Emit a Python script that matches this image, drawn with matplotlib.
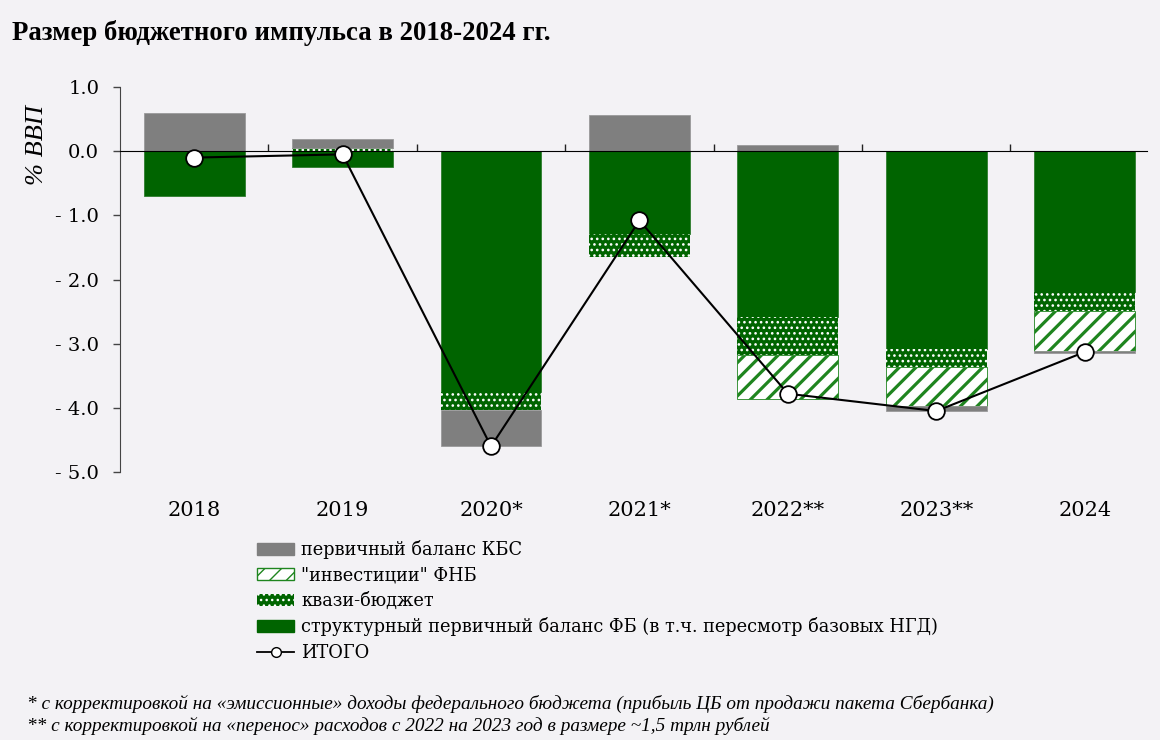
import numpy as np
import matplotlib
matplotlib.use("Agg")
import matplotlib.pyplot as plt
from matplotlib.patches import Patch
from matplotlib.lines import Line2D

# данные, % ВВП
years = ["2018", "2019", "2020*", "2021*", "2022**", "2023**", "2024"]
struct_fb = [-0.70, -0.24, -3.75, -1.29, -2.58, -3.08, -2.19]
quasi = [0.0, 0.05, -0.29, -0.36, -0.59, -0.29, -0.30]
fnb = [0.0, 0.0, 0.0, 0.0, -0.70, -0.60, -0.62]
kbs = [0.60, 0.14, -0.55, 0.57, 0.10, -0.08, -0.03]
itogo = [-0.10, -0.05, -4.60, -1.08, -3.78, -4.05, -3.13]

yticks = [1, 0, -1, -2, -3, -4, -5]
ytick_labels = ["1.0", "0.0", "- 1.0", "- 2.0", "- 3.0", "- 4.0", "- 5.0"]

lbl_kbs = "первичный баланс КБС"
lbl_fnb = '"инвестиции" ФНБ'
lbl_quasi = "квази-бюджет"
lbl_struct = "структурный первичный баланс ФБ (в т.ч. пересмотр базовых НГД)"
lbl_itogo = "ИТОГО"

title = "Размер бюджетного импульса в 2018-2024 гг."
note1 = "* с корректировкой на «эмиссионные» доходы федерального бюджета (прибыль ЦБ от продажи пакета Сбербанка)"
note2 = "** с корректировкой на «перенос» расходов с 2022 на 2023 год в размере ~1,5 трлн рублей"

BG = "#f3f2f5"
GREEN = "#006400"
GREEN_H = "#1f851f"
GREY = "#7f7f7f"


def hatch_lw(artist, lw):
    # толщина штриховки отдельно для каждого элемента (если версия умеет)
    if hasattr(artist, "set_hatch_linewidth"):
        artist.set_hatch_linewidth(lw)


fig = plt.figure(figsize=(11.6, 7.4), dpi=100, facecolor=BG)
ax = fig.add_axes([120/1160, 1-472/740, (1147-120)/1160, (472-87)/740])
ax.set_facecolor(BG)

x = np.arange(len(years))
w = 0.68

styles = [
    (struct_fb, dict(facecolor=GREEN, edgecolor="#2e7d2e", linewidth=0.6), None),
    (quasi, dict(facecolor=GREEN, edgecolor="white", hatch="...", linewidth=0), 1.1),
    (fnb, dict(facecolor="white", edgecolor=GREEN_H, hatch="//", linewidth=0.6), 2.3),
    (kbs, dict(facecolor=GREY, edgecolor="#9a9a9a", linewidth=0.6), None),
]
pos = np.zeros(len(years))
neg = np.zeros(len(years))
for vals, st, hlw in styles:
    v = np.array(vals)
    bottom = np.where(v >= 0, pos, neg)
    with plt.rc_context({"hatch.linewidth": hlw or 1.0}):
        bars = ax.bar(x, v, w, bottom=bottom, zorder=2, **st)
    if hlw:
        for b in bars:
            hatch_lw(b, hlw)
    pos = pos + np.where(v > 0, v, 0)
    neg = neg + np.where(v < 0, v, 0)

ax.plot(x, itogo, color="black", lw=1.5, marker="o", ms=12,
        mfc="white", mec="black", mew=1.3, zorder=4)

ax.set_xlim(-0.5, 6.42)
ax.set_ylim(-5, 1)

for s in ["top", "right", "bottom"]:
    ax.spines[s].set_visible(False)
ax.spines["left"].set_color("#444444")

ax.set_yticks(yticks)
ax.set_yticklabels(ytick_labels, family="DejaVu Serif", fontsize=14)
ax.tick_params(axis="y", length=5, width=1, color="#444444", pad=10)

ax.set_xticks(x)
ax.set_xticklabels(years, family="DejaVu Serif", fontsize=15)
ax.tick_params(axis="x", length=0, pad=21)

# нулевая линия с делениями между годами
zero = ax.secondary_xaxis(5/6)
zero.set_xticks(x[:-1] + 0.5)
zero.set_xticklabels([])
zero.tick_params(axis="x", direction="out", length=5, width=1, color="#222222")
zero.spines["bottom"].set_color("#222222")
zero.set_zorder(3)

fig.text(37/1160, 1-145/740, "% ВВП", rotation=90, ha="center", va="center",
         family="Liberation Serif", style="italic", fontsize=19)

fig.text(12/1160, 1-33/740, title, ha="left", va="center",
         family="Liberation Serif", weight="bold", fontsize=19.3)

with plt.rc_context({"hatch.linewidth": 2.2}):
    h_fnb = Patch(facecolor="white", edgecolor=GREEN_H, hatch="//", label=lbl_fnb)
with plt.rc_context({"hatch.linewidth": 1.1}):
    h_quasi = Patch(facecolor=GREEN, edgecolor="white", hatch="...", linewidth=0, label=lbl_quasi)
hatch_lw(h_fnb, 2.2)
hatch_lw(h_quasi, 1.1)

handles = [
    Patch(facecolor=GREY, edgecolor=GREY, label=lbl_kbs),
    h_fnb,
    h_quasi,
    Patch(facecolor=GREEN, edgecolor=GREEN, label=lbl_struct),
    Line2D([], [], color="black", lw=1.3, marker="o", ms=7, mfc="white", mec="black", label=lbl_itogo),
]
leg = fig.legend(handles=handles, loc="upper left", bbox_to_anchor=(257/1160, 1-540/740),
                 frameon=False, prop=dict(family="DejaVu Serif", size=12.8),
                 handlelength=2.1, handleheight=0.7, handletextpad=0.4,
                 labelspacing=0.42, borderpad=0, borderaxespad=0)

fig.text(27/1160, 1-704/740, note1, ha="left", va="center",
         family="Liberation Serif", style="italic", fontsize=13.9)
fig.text(27/1160, 1-726/740, note2, ha="left", va="center",
         family="Liberation Serif", style="italic", fontsize=13.9)

fig.savefig("out.png", dpi=100, facecolor=BG)
